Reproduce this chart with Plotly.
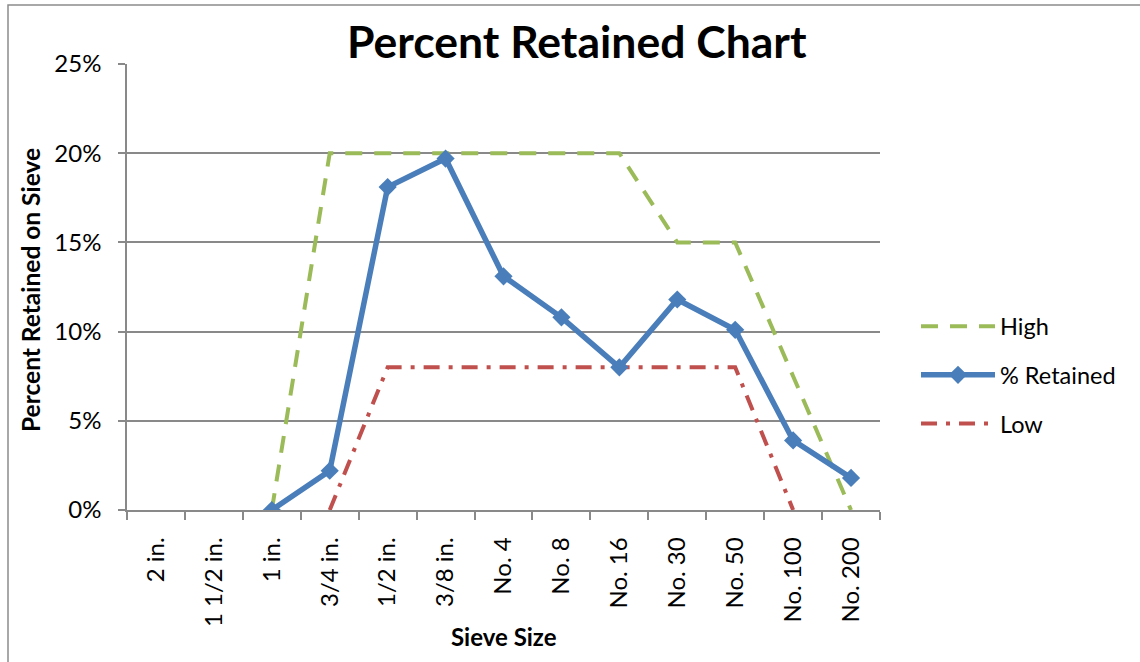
import plotly.graph_objects as go

sieves = ["2 in.", "1 1/2 in.", "1 in.", "3/4 in.", "1/2 in.", "3/8 in.",
          "No. 4", "No. 8", "No. 16", "No. 30", "No. 50", "No. 100", "No. 200"]
high = [None, None, 0.0, 0.20, 0.20, 0.20, 0.20, 0.20, 0.20, 0.15, 0.15, 0.075, 0.0]
retained = [None, None, 0.0, 0.022, 0.181, 0.197, 0.131, 0.108, 0.080, 0.118, 0.101, 0.039, 0.018]
low = [None, None, None, 0.0, 0.08, 0.08, 0.08, 0.08, 0.08, 0.08, 0.08, 0.0, None]

W, H = 1140, 662
L, R, T, B = 127, 880, 64, 510
FONT = "Lato"

def px(x):
    return (x - L) / (R - L)

def py(y):
    return (B - y) / (B - T)

fig = go.Figure()
fig.add_trace(go.Scatter(x=sieves, y=high, name="High", mode="lines",
                         line=dict(color="#9BBB59", width=4, dash="17px,12px"),
                         legendrank=1, legendgroup="a"))
fig.add_trace(go.Scatter(x=sieves, y=low, name="Low", mode="lines",
                         line=dict(color="#C0504D", width=4, dash="16px,9px,4px,9px"),
                         legendrank=3, legendgroup="c"))
fig.add_trace(go.Scatter(x=sieves, y=retained, name="% Retained", mode="lines+markers",
                         line=dict(color="#4A7EBB", width=5.5),
                         marker=dict(symbol="diamond", size=14, color="#4A7EBB"),
                         legendrank=2, legendgroup="b"))

grid = "#898989"
fig.update_layout(
    width=W, height=H,
    margin=dict(l=L, r=W - R, t=T, b=H - B),
    paper_bgcolor="white", plot_bgcolor="white",
    font=dict(family=FONT, size=22, color="black"),
    showlegend=True,
    legend=dict(x=px(916), y=py(375), xanchor="left", yanchor="middle",
                traceorder="grouped", tracegroupgap=15, itemwidth=74,
                font=dict(family=FONT, size=23.5, color="black"),
                bgcolor="rgba(0,0,0,0)"),
    xaxis=dict(type="category", categoryorder="array", categoryarray=sieves,
               range=[-0.5, 12.5], showgrid=False, showline=True, linecolor=grid,
               linewidth=1.5, ticks="outside", ticklen=8, tickcolor=grid, tickwidth=1.5,
               tickson="boundaries", tickangle=-90, ticklabelstandoff=16,
               tickfont=dict(family=FONT, size=24), zeroline=False, fixedrange=True),
    yaxis=dict(range=[0, 0.25], dtick=0.05, tickformat=".0%", showgrid=True,
               gridcolor=grid, gridwidth=1.5, showline=True, linecolor=grid, linewidth=1.5,
               ticks="outside", ticklen=7, tickcolor=grid, tickwidth=1.5,
               ticklabelstandoff=12, tickfont=dict(family=FONT, size=24),
               zeroline=False, fixedrange=True),
    shapes=[dict(type="rect", xref="paper", yref="paper",
                 x0=px(8), x1=px(1150), y0=py(5), y1=py(700),
                 line=dict(color="#8C8C8C", width=1.5), fillcolor="rgba(0,0,0,0)", layer="below")],
    annotations=[
        dict(text="<b>Percent Retained Chart</b>", xref="paper", yref="paper",
             x=px(577), y=py(40), xanchor="center", yanchor="middle", showarrow=False,
             font=dict(family=FONT, size=44.5, color="black")),
        dict(text="<b>Percent Retained on Sieve</b>", xref="paper", yref="paper",
             x=px(30), y=py(290), xanchor="center", yanchor="middle", showarrow=False,
             textangle=-90, font=dict(family=FONT, size=24.5, color="black")),
        dict(text="<b>Sieve Size</b>", xref="paper", yref="paper",
             x=px(504), y=py(636), xanchor="center", yanchor="middle", showarrow=False,
             font=dict(family=FONT, size=24, color="black")),
    ],
)

fig.write_html("out.html")
